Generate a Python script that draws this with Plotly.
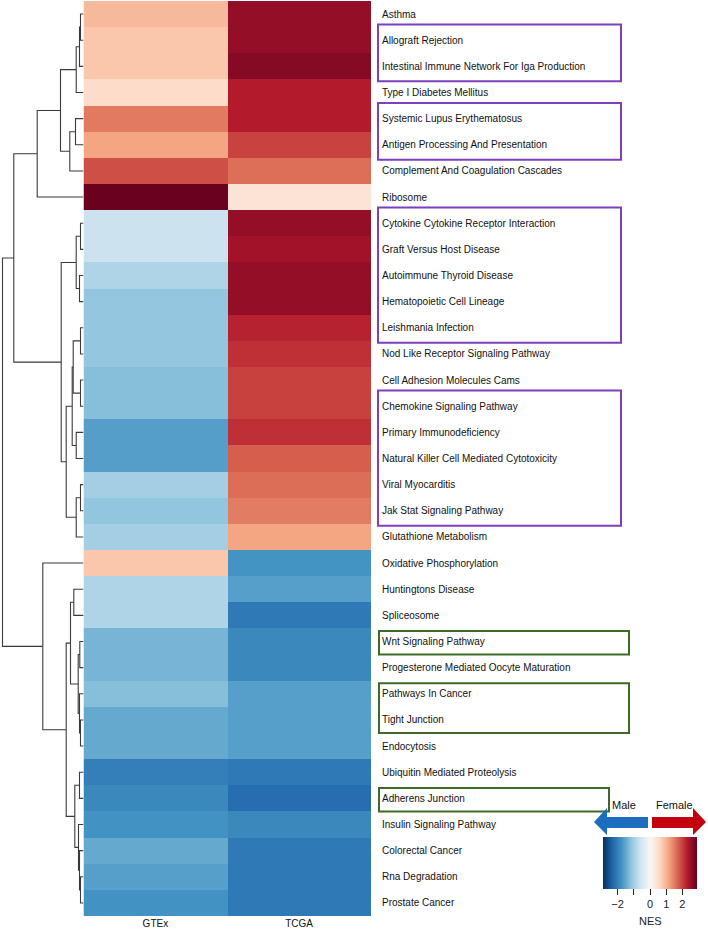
import plotly.graph_objects as go

W, H = 708, 936

# ---------------- data ----------------
pathways = [
    "Asthma", "Allograft Rejection", "Intestinal Immune Network For Iga Production",
    "Type I Diabetes Mellitus", "Systemic Lupus Erythematosus",
    "Antigen Processing And Presentation", "Complement And Coagulation Cascades",
    "Ribosome", "Cytokine Cytokine Receptor Interaction", "Graft Versus Host Disease",
    "Autoimmune Thyroid Disease", "Hematopoietic Cell Lineage", "Leishmania Infection",
    "Nod Like Receptor Signaling Pathway", "Cell Adhesion Molecules Cams",
    "Chemokine Signaling Pathway", "Primary Immunodeficiency",
    "Natural Killer Cell Mediated Cytotoxicity", "Viral Myocarditis",
    "Jak Stat Signaling Pathway", "Glutathione Metabolism", "Oxidative Phosphorylation",
    "Huntingtons Disease", "Spliceosome", "Wnt Signaling Pathway",
    "Progesterone Mediated Oocyte Maturation", "Pathways In Cancer", "Tight Junction",
    "Endocytosis", "Ubiquitin Mediated Proteolysis", "Adherens Junction",
    "Insulin Signaling Pathway", "Colorectal Cancer", "Rna Degradation", "Prostate Cancer",
]
columns = ["GTEx", "TCGA"]
gtex_nes = [0.95, 0.8, 0.8, 0.55, 1.52, 1.15, 1.88, 2.88, -0.63, -0.63, -0.88, -1.14,
            -1.14, -1.14, -1.24, -1.24, -1.61, -1.61, -1.0, -1.16, -1.0, 0.8, -0.88,
            -0.88, -1.36, -1.36, -1.24, -1.49, -1.49, -2.0, -1.88, -1.75, -1.49, -1.6,
            -1.75]
tcga_nes = [2.56, 2.56, 2.67, 2.3, 2.3, 1.97, 1.61, 0.4, 2.56, 2.44, 2.56, 2.56, 2.24,
            2.13, 1.98, 1.98, 2.13, 1.75, 1.63, 1.5, 1.16, -1.74, -1.6, -2.08, -1.88,
            -1.88, -1.6, -1.6, -1.6, -2.08, -2.22, -1.88, -2.08, -2.08, -2.08]

# row clustering tree: (left, right, merge height); ints are row indices
tree_top = ((((0, 1, 3.0), 2, 4.0), 3, 7.3), ((4, 5, 8.0), 6, 13.7), 23.0)
tree_top = (tree_top, 7, 46.3)
tree_mid = (((8, 9, 3.0), (10, 11, 4.0), 7.3),
            ((((12, 13, 3.0), (14, 15, 3.0), 10.3), (16, 17, 7.3), 11.3),
             ((18, 19, 3.0), 20, 7.3), 17.3), 22.3)
tree_low = (21, (((22, 23, 9.7), ((24, 25, 3.7), (26, (27, 28, 3.0), 4.0), 5.3), 13.0),
                 ((29, 30, 4.0), (31, (32, (33, 34, 3.0), 4.0), 5.0), 8.7), 17.3), 40.7)
row_tree = ((tree_top, tree_mid, 69.7), tree_low, 81.0)

# highlighted label groups: (first row, last row)
purple_groups = [(1, 2), (4, 5), (8, 12), (15, 19)]
green_groups = [(24, 24), (26, 27), (30, 30)]

cbar_ticks = [-2, -1, 0, 1, 2]
cbar_ticktext = ["\u22122", "", "0", "1", "2"]

# ---------------- figure ----------------
rdbu = ["#053061", "#2166ac", "#4393c3", "#92c5de", "#d1e5f0", "#f7f7f7",
        "#fddbc7", "#f4a582", "#d6604d", "#b2182b", "#67001f"]
cscale = [[i / 10, c] for i, c in enumerate(rdbu)]

rows = list(range(len(pathways)))
z = [[g, t] for g, t in zip(gtex_nes, tcga_nes)]

FONT = "Liberation Sans, Arial"

fig = go.Figure()

fig.add_trace(go.Heatmap(
    z=z, x=columns, y=rows, colorscale=cscale, zmin=-2.9, zmax=2.9,
    xgap=0, ygap=0, hoverinfo="skip",
    colorbar=dict(
        orientation="h", xref="container", yref="container",
        x=650 / W, xanchor="center", y=1 - 837 / H, yanchor="top",
        lenmode="pixels", len=94, thickness=52, xpad=0, ypad=0,
        outlinewidth=0, ticks="outside", ticklen=6, tickwidth=1.2,
        tickcolor="#222", tickvals=cbar_ticks, ticktext=cbar_ticktext,
        tickfont=dict(family=FONT, size=11, color="#222"),
    ),
))

# dendrogram
dx, dy = [], []


def walk(node):
    if isinstance(node, int):
        return float(node), 0.0
    left, right, h = node
    yl, hl = walk(left)
    yr, hr = walk(right)
    dx.extend([hl, h, h, hr, None])
    dy.extend([yl, yl, yr, yr, None])
    return (yl + yr) / 2, h


walk(row_tree)
fig.add_trace(go.Scatter(x=dx, y=dy, mode="lines", xaxis="x2", yaxis="y",
                         line=dict(color="#3a3a3a", width=1.1), hoverinfo="skip",
                         showlegend=False))

# overlay pixel axis
fig.add_trace(go.Scatter(x=[0], y=[0], xaxis="x3", yaxis="y3", mode="markers",
                         marker=dict(opacity=0), hoverinfo="skip", showlegend=False))

font = dict(family=FONT, size=10, color="#111")
annotations = []
for i, name in enumerate(pathways):
    annotations.append(dict(text=name, x=380, xref="x3", y=i, yref="y",
                            xanchor="left", yanchor="middle", showarrow=False,
                            font=font))
annotations.append(dict(text="Male", x=624, y=805, xref="x3", yref="y3",
                        showarrow=False, font=dict(family=FONT, size=11, color="#111")))
annotations.append(dict(text="Female", x=674, y=805, xref="x3", yref="y3",
                        showarrow=False, font=dict(family=FONT, size=11, color="#111")))
annotations.append(dict(text="NES", x=650, y=921, xref="x3", yref="y3",
                        showarrow=False, font=dict(family=FONT, size=11, color="#222")))

shapes = []
for a, b in purple_groups:
    shapes.append(dict(type="rect", xref="x3", yref="y", x0=378, x1=621,
                       y0=a - 0.6, y1=b + 0.57,
                       line=dict(color="#7d3fbd", width=2)))
green_right = [629, 629, 609]
for (a, b), xr in zip(green_groups, green_right):
    shapes.append(dict(type="rect", xref="x3", yref="y", x0=379, x1=xr,
                       y0=a - 0.4, y1=b + 0.5,
                       line=dict(color="#3f6a26", width=2)))

# arrows
shapes.append(dict(type="path", xref="x3", yref="y3",
                   path="M 594 822 L 607 808 L 607 817 L 648 817 L 648 828 L 607 828 L 607 835 Z",
                   fillcolor="#1c6dbf", line=dict(width=0)))
shapes.append(dict(type="path", xref="x3", yref="y3",
                   path="M 706 822 L 693 808 L 693 817 L 652 817 L 652 828 L 693 828 L 693 835 Z",
                   fillcolor="#c2000e", line=dict(width=0)))

fig.update_layout(
    width=W, height=H, margin=dict(l=0, r=0, t=0, b=0, autoexpand=False),
    paper_bgcolor="white", plot_bgcolor="rgba(0,0,0,0)", showlegend=False,
    xaxis=dict(domain=[83.5 / W, 371 / W], showgrid=False, zeroline=False,
               ticks="", showline=False,
               tickfont=dict(family=FONT, size=10, color="#111")),
    yaxis=dict(domain=[1 - 916 / H, 1 - 1 / H], range=[34.5, -0.5], showgrid=False,
               zeroline=False, showticklabels=False, ticks=""),
    xaxis2=dict(domain=[0, 83.5 / W], range=[83.5, 0], anchor="y", showgrid=False,
                zeroline=False, showticklabels=False, ticks=""),
    xaxis3=dict(domain=[0, 1], range=[0, W], anchor="y3", visible=False),
    yaxis3=dict(domain=[0, 1], range=[H, 0], anchor="x3", visible=False),
    annotations=annotations, shapes=shapes,
)

fig.write_html(
    "out.html",
    config={"displayModeBar": False},
    post_script="document.body.style.margin='0';document.body.style.overflow='hidden';",
)
